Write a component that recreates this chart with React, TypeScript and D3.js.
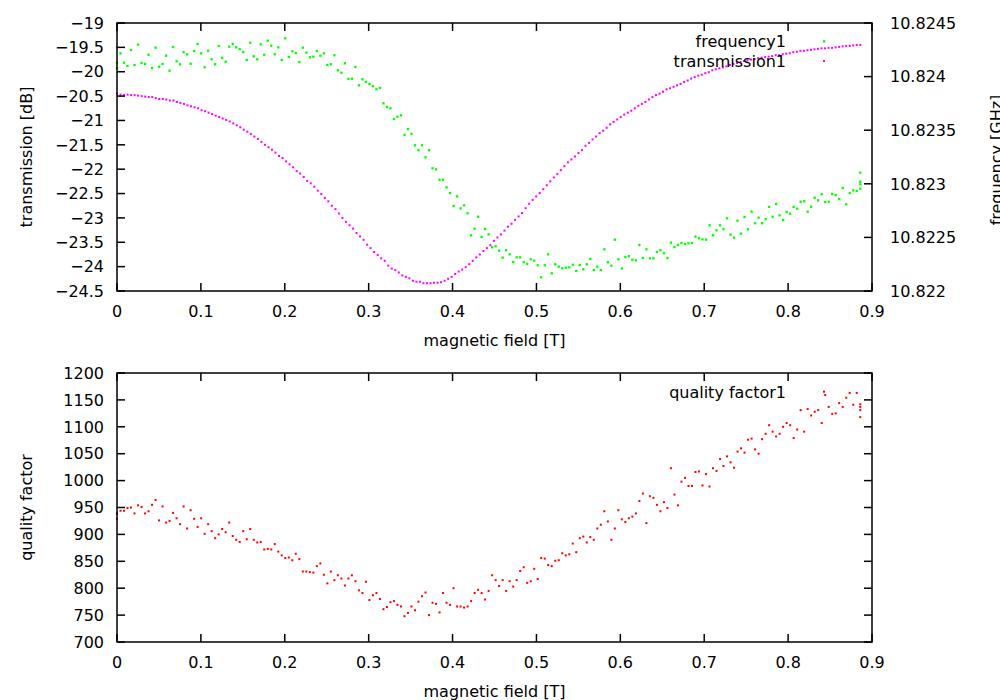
import * as d3 from "d3";

// field sweep 0 .. 0.886 T
const FIELD_MAX = 0.886;

const fieldTicks = [0, 0.1, 0.2, 0.3, 0.4, 0.5, 0.6, 0.7, 0.8, 0.9];
const transTicks = [-24.5, -24, -23.5, -23, -22.5, -22, -21.5, -21, -20.5, -20, -19.5, -19];
const freqTicks = [10.822, 10.8225, 10.823, 10.8235, 10.824, 10.8245];
const qualityTicks = [700, 750, 800, 850, 900, 950, 1000, 1050, 1100, 1150, 1200];

// transmission1 [dB]
const transmission = [
  -20.45, -20.47, -20.48, -20.47, -20.48, -20.48, -20.49, -20.5, -20.51, -20.52,
  -20.52, -20.54, -20.56, -20.56, -20.57, -20.59, -20.59, -20.62, -20.64, -20.66,
  -20.69, -20.71, -20.73, -20.75, -20.79, -20.81, -20.84, -20.87, -20.9, -20.93,
  -20.96, -20.99, -21.02, -21.06, -21.1, -21.14, -21.19, -21.23, -21.28, -21.33,
  -21.38, -21.44, -21.5, -21.55, -21.6, -21.66, -21.73, -21.77, -21.84, -21.9,
  -21.96, -22.04, -22.09, -22.16, -22.24, -22.29, -22.36, -22.44, -22.51, -22.59,
  -22.66, -22.75, -22.82, -22.91, -23.0, -23.08, -23.15, -23.22, -23.31, -23.38,
  -23.45, -23.55, -23.62, -23.7, -23.76, -23.83, -23.88, -23.98, -24.04, -24.07,
  -24.12, -24.18, -24.21, -24.24, -24.29, -24.31, -24.31, -24.34, -24.34, -24.34,
  -24.33, -24.33, -24.32, -24.29, -24.25, -24.21, -24.15, -24.1, -24.06, -24.01,
  -23.95, -23.88, -23.81, -23.75, -23.68, -23.62, -23.56, -23.47, -23.4, -23.34,
  -23.26, -23.18, -23.12, -23.04, -22.97, -22.9, -22.8, -22.71, -22.63, -22.56,
  -22.49, -22.41, -22.33, -22.25, -22.17, -22.1, -22.02, -21.94, -21.86, -21.8,
  -21.74, -21.67, -21.61, -21.52, -21.46, -21.39, -21.33, -21.26, -21.21, -21.15,
  -21.08, -21.03, -20.98, -20.93, -20.88, -20.84, -20.8, -20.75, -20.7, -20.66,
  -20.62, -20.57, -20.52, -20.48, -20.45, -20.41, -20.36, -20.34, -20.31, -20.28,
  -20.25, -20.21, -20.18, -20.14, -20.11, -20.08, -20.06, -20.03, -20.01, -19.97,
  -19.95, -19.93, -19.91, -19.89, -19.86, -19.84, -19.82, -19.8,
  -19.78, -19.77, -19.75, -19.74, -19.72, -19.71, -19.7, -19.69, -19.68, -19.66,
  -19.66, -19.64, -19.63, -19.62, -19.6, -19.59, -19.57, -19.57, -19.56, -19.55,
  -19.54, -19.53, -19.52, -19.52, -19.51, -19.51, -19.5, -19.49, -19.48, -19.47,
  -19.47, -19.46, -19.45, -19.45,
];

// frequency1 [GHz]
const frequency = [
  10.824273, 10.824217, 10.82413, 10.824099, 10.824248, 10.824108, 10.824298, 10.824127, 10.824118, 10.824204,
  10.82408, 10.82427, 10.824092, 10.824118, 10.824195, 10.824055, 10.824276, 10.824143, 10.824115, 10.824227,
  10.824208, 10.82412, 10.824239, 10.824304, 10.824217, 10.824087, 10.824242, 10.824161, 10.824115, 10.824285,
  10.824174, 10.824139, 10.824279, 10.824304, 10.824273, 10.824257, 10.824229, 10.824155, 10.824316, 10.824189,
  10.824161, 10.824301, 10.824204, 10.824335, 10.824288, 10.824208, 10.824273, 10.824155, 10.824357, 10.824183,
  10.824236, 10.82422, 10.824136, 10.82427, 10.824223, 10.82418, 10.824186, 10.824239, 10.824195, 10.824217,
  10.824108, 10.824115, 10.824199, 10.824059, 10.824036, 10.824124, 10.823978, 10.82398, 10.82409, 10.823919,
  10.823975, 10.82395, 10.823931, 10.82391, 10.823882, 10.823894, 10.823751, 10.823716, 10.823704, 10.823604,
  10.823626, 10.823639, 10.823455, 10.823511, 10.823467, 10.823359, 10.823313, 10.823359, 10.823247, 10.823313,
  10.823145, 10.823135, 10.823038, 10.823038, 10.822967, 10.822914, 10.822793, 10.822883, 10.822771, 10.822799,
  10.822725, 10.82252, 10.822581, 10.822693, 10.822504, 10.822578, 10.822529, 10.822408, 10.822417, 10.822376,
  10.822311, 10.82238, 10.822342, 10.822271, 10.822314, 10.822314, 10.822268, 10.822252, 10.822296, 10.822283,
  10.82224, 10.822128, 10.82224, 10.822342, 10.822165, 10.822249, 10.822227, 10.822212, 10.822217, 10.822221,
  10.822245, 10.822187, 10.822243, 10.822202, 10.822249, 10.822299, 10.822196, 10.822227, 10.822196, 10.822389,
  10.822268, 10.822236, 10.822479, 10.822296, 10.82221, 10.822317, 10.822325, 10.822292, 10.822286, 10.822429,
  10.822308, 10.822389, 10.822305, 10.822305, 10.822364, 10.82238, 10.822352, 10.822308, 10.822451, 10.82241,
  10.822429, 10.822448, 10.822438, 10.822445, 10.822448, 10.822507, 10.822492, 10.822482, 10.822479, 10.822613,
  10.82252, 10.822566, 10.822613, 10.822576, 10.822678, 10.822525, 10.822497, 10.822656, 10.822535, 10.82269,
  10.822576, 10.82274, 10.822632, 10.822684, 10.822632, 10.822669, 10.822784, 10.822693, 10.822812, 10.822706,
  10.822662, 10.822737, 10.822721, 10.822784, 10.822768, 10.822833, 10.822837, 10.82274, 10.822786, 10.82287,
  10.822846, 10.822902, 10.82283, 10.822833, 10.822905, 10.822896, 10.822858, 10.822961, 10.822809, 10.822914,
  10.822939, 10.822933, 10.82302,
];
// repeated readings at the sweep ends
const freqRepeatField = [0, 0, 0.886, 0.886, 0.886];
const freqRepeatValue = [10.82413, 10.824077, 10.823104, 10.822995, 10.822954];

// quality factor1
const quality = [
  929, 944, 944, 949, 950, 939, 954, 951, 939, 943,
  955, 964, 926, 952, 922, 925, 940, 930, 919, 952,
  911, 945, 929, 914, 930, 901, 919, 906, 893, 900,
  910, 904, 922, 897, 890, 886, 906, 891, 910, 890,
  885, 886, 872, 873, 872, 882, 868, 861, 856, 857,
  852, 864, 854, 831, 831, 830, 829, 841, 846, 825,
  809, 831, 815, 824, 818, 805, 818, 824, 813, 796,
  791, 812, 778, 787, 791, 780, 761, 765, 774, 776,
  769, 766, 748, 754, 766, 759, 775, 785, 792, 750,
  773, 771, 755, 791, 773, 769, 800, 766, 766, 764,
  766, 776, 791, 797, 791, 779, 795, 824, 815, 804,
  815, 795, 813, 803, 815, 832, 839, 810, 813, 836,
  817, 856, 855, 843, 841, 851, 852, 865, 861, 863,
  883, 867, 893, 896, 885, 895, 890, 911, 918, 943,
  924, 890, 911, 945, 928, 923, 930, 933, 939, 962,
  976, 921, 971, 968, 955, 943, 960, 949, 1023, 974,
  954, 998, 1005, 990, 990, 1016, 1017, 991, 1012, 989,
  1023, 1018, 1040, 1027, 1045, 1034, 1024, 1054, 1060, 1052,
  1076, 1078, 1058, 1050, 1077, 1087, 1103, 1091, 1082, 1087,
  1100, 1107, 1103, 1079, 1095, 1131, 1091, 1133, 1121, 1128,
  1131, 1107, 1159, 1137, 1124, 1125, 1144, 1137, 1154, 1163,
  1141, 1163, 1131,
];
const qualityRepeatField = [0, 0, 0.886, 0.886, 0.886];
const qualityRepeatValue = [938, 940, 1118, 1137, 1142];

const FONT = "DejaVu Sans";
const GREEN = "#00ff00";
const MAGENTA = "#ff00ff";
const RED = "#ff0000";

const L = 117;
const R = 872;
const T1 = 23;
const B1 = 291;
const T2 = 373;
const B2 = 642;
const TICK = 8;

const sweep = (n: number) => d3.range(n).map((i) => (i * FIELD_MAX) / (n - 1));

const x = d3.scaleLinear().domain([0, 0.9]).range([L, R]);
const yTrans = d3.scaleLinear().domain([-24.5, -19]).range([B1, T1]);
const yFreq = d3.scaleLinear().domain([10.822, 10.8245]).range([B1, T1]);
const yQual = d3.scaleLinear().domain([700, 1200]).range([B2, T2]);

const fmt = d3.format("");

function Dots({ xs, ys, y, color, size = 2 }: { xs: number[]; ys: number[]; y: (v: number) => number; color: string; size?: number }) {
  return (
    <g fill={color}>
      {ys.map((v, i) => (
        <rect key={i} x={x(xs[i]) - size / 2} y={y(v) - size / 2} width={size} height={size} />
      ))}
    </g>
  );
}

function XAxis({ top, bottom }: { top: number; bottom: number }) {
  return (
    <g>
      {fieldTicks.map((t) => (
        <g key={t}>
          <line x1={x(t)} x2={x(t)} y1={bottom} y2={bottom - TICK} stroke="#000" strokeWidth={1.5} />
          <line x1={x(t)} x2={x(t)} y1={top} y2={top + TICK} stroke="#000" strokeWidth={1.5} />
          <text x={x(t)} y={bottom + 26} textAnchor="middle">{fmt(t)}</text>
        </g>
      ))}
      <text x={(L + R) / 2} y={bottom + 55} textAnchor="middle">magnetic field [T]</text>
    </g>
  );
}

export default function App() {
  const fTrans = sweep(transmission.length);
  const fFreq = sweep(frequency.length);
  const fQual = sweep(quality.length);

  return (
    <svg
      width={1000}
      height={700}
      style={{ position: "absolute", left: 0, top: 0, background: "#fff" }}
      fontFamily={FONT}
      fontSize={16}
      fill="#000"
    >
      {/* ---------- top panel ---------- */}
      <Dots xs={fFreq} ys={frequency} y={yFreq} color={GREEN} size={2.3} />
      <Dots xs={freqRepeatField} ys={freqRepeatValue} y={yFreq} color={GREEN} size={2.3} />
      <Dots xs={fTrans} ys={transmission} y={yTrans} color={MAGENTA} />

      <rect x={L} y={T1} width={R - L} height={B1 - T1} fill="none" stroke="#000" strokeWidth={1.5} />
      <XAxis top={T1} bottom={B1} />
      {transTicks.map((t) => (
        <g key={t}>
          <line x1={L} x2={L + TICK} y1={yTrans(t)} y2={yTrans(t)} stroke="#000" strokeWidth={1.5} />
          <text x={104} y={yTrans(t)} dy="0.36em" textAnchor="end">{fmt(t)}</text>
        </g>
      ))}
      {freqTicks.map((t) => (
        <g key={t}>
          <line x1={R} x2={R - TICK} y1={yFreq(t)} y2={yFreq(t)} stroke="#000" strokeWidth={1.5} />
          <text x={890} y={yFreq(t)} dy="0.36em" textAnchor="start">{fmt(t)}</text>
        </g>
      ))}
      <text transform={`translate(32,${(T1 + B1) / 2}) rotate(-90)`} textAnchor="middle">transmission [dB]</text>
      <text transform={`translate(1002,${(T1 + B1) / 2 + 3}) rotate(-90)`} textAnchor="middle">frequency [GHz]</text>

      <text x={786} y={47} textAnchor="end">frequency1</text>
      <rect x={823} y={40.2} width={2.3} height={2.3} fill={GREEN} />
      <text x={786} y={67} textAnchor="end">transmission1</text>
      <rect x={823} y={60} width={2} height={2} fill={MAGENTA} />

      {/* ---------- bottom panel ---------- */}
      <Dots xs={fQual} ys={quality} y={yQual} color={RED} />
      <Dots xs={qualityRepeatField} ys={qualityRepeatValue} y={yQual} color={RED} />

      <rect x={L} y={T2} width={R - L} height={B2 - T2} fill="none" stroke="#000" strokeWidth={1.5} />
      <XAxis top={T2} bottom={B2} />
      {qualityTicks.map((t) => (
        <g key={t}>
          <line x1={L} x2={L + TICK} y1={yQual(t)} y2={yQual(t)} stroke="#000" strokeWidth={1.5} />
          <line x1={R} x2={R - TICK} y1={yQual(t)} y2={yQual(t)} stroke="#000" strokeWidth={1.5} />
          <text x={104} y={yQual(t)} dy="0.36em" textAnchor="end">{fmt(t)}</text>
        </g>
      ))}
      <text transform={`translate(32,${(T2 + B2) / 2}) rotate(-90)`} textAnchor="middle">quality factor</text>

      <text x={786} y={397.5} textAnchor="end">quality factor1</text>
      <rect x={823} y={390.7} width={2} height={2} fill={RED} />
    </svg>
  );
}
